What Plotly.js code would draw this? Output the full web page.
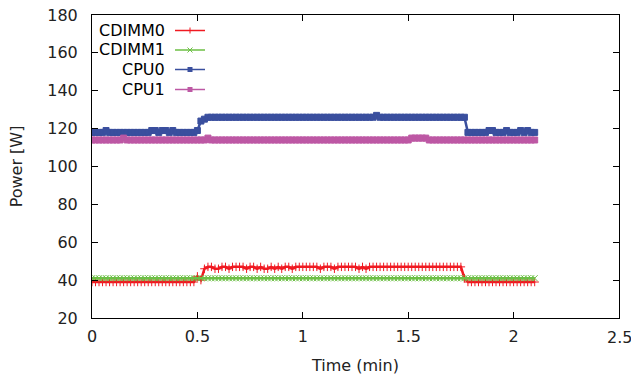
<!DOCTYPE html>
<html>
<head>
<meta charset="utf-8">
<script src="https://cdn.plot.ly/plotly-3.0.1.min.js"></script>
<style>html,body{margin:0;padding:0;background:#fff;}#chart{width:631px;height:381px;}</style>
</head>
<body>
<div id="chart"></div>
<script>
// Time in seconds (one sample per second), converted to minutes below
const seconds = [];
for (let s = 0; s <= 126; s++) seconds.push(s);
const timeMin = seconds.map(s => s / 60);

const seriesNames = ["CDIMM0", "CDIMM1", "CPU0", "CPU1"];

const cdimm0 = [
  39,39,39,39,39,39,39,39,39,39, 39,39,39,39,39,39,39,39,39,39,
  39,39,39,39,39,39,39,39,39,39, 42,40,46,47,47,46,46,47,47,46,
  47,47,47,47,46,47,47,46,47,46, 46,47,46,47,46,47,47,46,47,47,
  47,47,47,47,47,46,47,47,47,46, 47,47,47,47,47,47,46,47,46,47,
  47,47,47,47,47,47,47,47,47,47, 47,47,47,47,47,47,47,47,47,47,
  47,47,47,47,47,47,41,39,39,39, 39,39,39,39,39,39,39,39,39,39,
  39,39,39,39,39,39,39
];
const cdimm1 = [
  41,41,41,41,41,41,41,41,41,41, 41,41,41,41,41,41,41,41,41,41,
  41,41,41,41,41,41,41,41,41,41, 41,41,41,41,41,41,41,41,41,41,
  41,41,41,41,41,41,41,41,41,41, 41,41,41,41,41,41,41,41,41,41,
  41,41,41,41,41,41,41,41,41,41, 41,41,41,41,41,41,41,41,41,41,
  41,41,41,41,41,41,41,41,41,41, 41,41,41,41,41,41,41,41,41,41,
  41,41,41,41,41,41,41,41,41,41, 41,41,41,41,41,41,41,41,41,41,
  41,41,41,41,41,41,41
];
const cpu0 = [
  118,118,118,118,119,118,118,118,118,118, 118,118,118,118,118,118,118,119,119,118,
  119,119,118,119,118,118,118,118,118,118, 119,124,125,126,126,126,126,126,126,126,
  126,126,126,126,126,126,126,126,126,126, 126,126,126,126,126,126,126,126,126,126,
  126,126,126,126,126,126,126,126,126,126, 126,126,126,126,126,126,126,126,126,126,
  126,127,126,126,126,126,126,126,126,126, 126,126,126,126,126,126,126,126,126,126,
  126,126,126,126,126,126,126,118,118,118, 118,118,118,119,119,118,118,118,119,118,
  118,118,119,118,119,118,118
];
const cpu1 = [
  114,114,114,114,114,114,114,114,114,115, 114,114,114,114,114,114,114,114,114,114,
  114,114,114,114,114,114,114,114,114,114, 114,114,114,115,114,114,114,114,114,114,
  114,114,114,114,114,114,114,114,114,114, 114,114,114,114,114,114,114,114,114,114,
  114,114,114,114,114,114,114,114,114,114, 114,114,114,114,114,114,114,114,114,114,
  114,114,114,114,114,114,114,114,114,114, 114,115,115,115,115,115,114,114,114,114,
  114,114,114,114,114,114,114,114,114,114, 114,114,114,114,114,114,114,114,114,114,
  114,114,114,114,114,114,114
];

const xTicks = [0, 0.5, 1, 1.5, 2, 2.5];
const xTickLabels = ["0", "0.5", "1", "1.5", "2", "2.5"];
const yTicks = [20, 40, 60, 80, 100, 120, 140, 160, 180];

const colors = ["#f01a22", "#6cbf45", "#3a4f9e", "#bd58a4"];
const symbols = ["cross-thin-open", "x-thin-open", "square", "square"];
const values = [cdimm0, cdimm1, cpu0, cpu1];

const traces = values.map((v, i) => ({
  x: timeMin, y: v, type: "scatter", mode: "lines+markers",
  name: seriesNames[i], showlegend: false,
  line: {color: colors[i], width: 2.5},
  marker: {symbol: symbols[i], size: 6, color: colors[i], line: {color: colors[i], width: 1}}
}));

// custom gnuplot-style legend (text right-aligned, sample to the right)
const annotations = [];
const shapes = [];
const legY = [30.5, 50, 69.5, 89.5];
const H = 381, W = 631, L = 92, R = 12, T = 15, B = 63;
const pw = W - L - R, ph = H - T - B;
const px = x => (x - L) / pw;
const py = y => 1 - (y - T) / ph;
seriesNames.forEach((n, i) => {
  annotations.push({xref: "paper", yref: "paper", x: px(167), y: py(legY[i]),
    xanchor: "right", yanchor: "middle", text: n, showarrow: false,
    font: {family: "DejaVu Sans", size: 16, color: "#000"}});
  shapes.push({type: "line", xref: "paper", yref: "paper",
    x0: px(175), x1: px(205), y0: py(legY[i]), y1: py(legY[i]),
    line: {color: colors[i], width: 1.5}});
  const cx = 190, cy = legY[i];
  if (i === 0) {
    shapes.push({type: "line", xref: "paper", yref: "paper", x0: px(cx), x1: px(cx), y0: py(cy - 3), y1: py(cy + 3), line: {color: colors[i], width: 1}});
  } else if (i === 1) {
    shapes.push({type: "line", xref: "paper", yref: "paper", x0: px(cx - 2.5), x1: px(cx + 2.5), y0: py(cy - 2.5), y1: py(cy + 2.5), line: {color: colors[i], width: 1}});
    shapes.push({type: "line", xref: "paper", yref: "paper", x0: px(cx - 2.5), x1: px(cx + 2.5), y0: py(cy + 2.5), y1: py(cy - 2.5), line: {color: colors[i], width: 1}});
  } else {
    shapes.push({type: "rect", xref: "paper", yref: "paper", x0: px(cx - 2.5), x1: px(cx + 2.5), y0: py(cy - 2.5), y1: py(cy + 2.5), line: {width: 0}, fillcolor: colors[i]});
  }
});

// last x tick label drawn as annotation (it overflows the page edge slightly)
const lastIdx = xTicks.length - 1;
annotations.push({xref: "x", yref: "paper", x: xTicks[lastIdx], y: py(337.5),
  xanchor: "center", yanchor: "middle", text: xTickLabels[lastIdx], showarrow: false,
  font: {family: "DejaVu Sans", size: 16, color: "#222"}});
const shownTickText = xTickLabels.map((t, i) => i === lastIdx ? "" : t);

const layout = {
  width: W, height: H,
  margin: {l: L, r: R, t: T, b: B, pad: 0},
  paper_bgcolor: "#fff", plot_bgcolor: "#fff",
  font: {family: "DejaVu Sans", size: 16, color: "#222"},
  showlegend: false,
  xaxis: {
    range: [0, 2.5], tickvals: xTicks, ticktext: shownTickText,
    ticks: "inside", ticklen: 6, tickcolor: "#000", tickwidth: 1,
    showline: true, linecolor: "#000", linewidth: 1, mirror: "ticks",
    showgrid: false, zeroline: false,
    tickfont: {family: "DejaVu Sans", size: 16, color: "#222"},
    title: {text: "Time (min)", font: {family: "DejaVu Sans", size: 16, color: "#222"}, standoff: 14},
    ticklabelstandoff: 4
  },
  yaxis: {
    range: [20, 180], tickvals: yTicks,
    ticks: "inside", ticklen: 6, tickcolor: "#000", tickwidth: 1,
    showline: true, linecolor: "#000", linewidth: 1, mirror: "ticks",
    showgrid: false, zeroline: false,
    tickfont: {family: "DejaVu Sans", size: 16, color: "#222"},
    title: {text: "Power [W]", font: {family: "DejaVu Sans", size: 16, color: "#222"}, standoff: 20},
    ticklabelstandoff: 10
  },
  annotations: annotations,
  shapes: shapes
};

Plotly.newPlot("chart", traces, layout, {staticPlot: true, displayModeBar: false});
</script>
</body>
</html>
